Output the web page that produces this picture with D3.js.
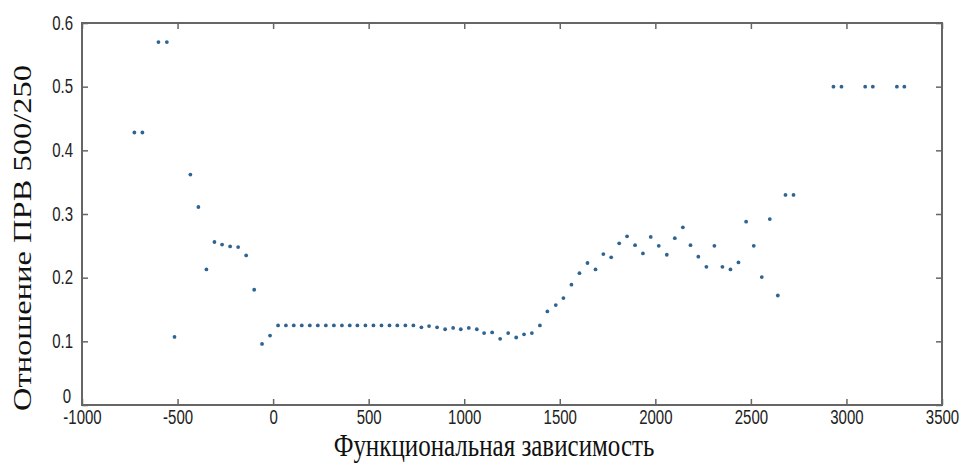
<!DOCTYPE html>
<html><head><meta charset="utf-8">
<script src="https://cdn.jsdelivr.net/npm/d3@7"></script>
<style>body{margin:0;background:#fff;}</style>
</head><body>
<svg id="c" width="973" height="467"></svg>
<script>
const xVals = [-726,-684,-600,-556,-516,-433,-391,-349,-307,-267,-225,-183,-141,-99,-58,-16,
  26,67,108,150,192,234,276,318,360,401,441,483,525,567,609,650,692,734,
  776,816,858,900,942,982,1024,1066,1104,1146,1188,1230,1272,1313,1354,1396,1435,1479,1519,1561,
  1603,1645,1687,1728,1769,1811,1852,1894,1935,1976,2018,2060,2102,2144,2184,2225,2267,2309,2351,2393,2435,
  2475,2515,2557,2599,2641,2681,2723,2932,2974,3098,3138,3264,3303];
const yVals = [0.428,0.428,0.570,0.570,0.107,0.362,0.311,0.213,0.256,0.252,0.249,0.248,0.235,0.181,0.096,0.109,
  0.125,0.125,0.125,0.125,0.125,0.125,0.125,0.125,0.125,0.125,0.125,0.125,0.125,0.125,0.125,0.125,0.125,0.125,
  0.122,0.124,0.122,0.119,0.121,0.119,0.121,0.119,0.113,0.114,0.104,0.113,0.106,0.111,0.113,0.125,0.147,0.157,0.168,0.189,
  0.207,0.223,0.213,0.237,0.232,0.254,0.265,0.251,0.238,0.264,0.250,0.236,0.262,0.279,0.251,0.233,0.217,0.250,0.217,0.213,0.224,
  0.288,0.250,0.201,0.292,0.172,0.330,0.330,0.500,0.500,0.500,0.500,0.500,0.500];
const xTicks = [-1000,-500,0,500,1000,1500,2000,2500,3000,3500];
const yTicks = [0,0.1,0.2,0.3,0.4,0.5,0.6];
const xTitle = "Функциональная зависимость";
const yTitle = "Отношение ПРВ 500/250";

const L=82, R=942, T=23, B=405;
const SY = 1.3;
const svg = d3.select("#c");
const x = d3.scaleLinear().domain([-1000,3500]).range([L,R]);
const y = d3.scaleLinear().domain([0,0.6]).range([B,T]);
const axisColor = "#666";
const tickFont = "'Liberation Sans',Arial,sans-serif";

svg.append("rect").attr("x",L).attr("y",T).attr("width",R-L).attr("height",B-T)
  .attr("fill","none").attr("stroke",axisColor).attr("stroke-width",2);

function styleAxis(g){
  g.select(".domain").remove();
  g.selectAll(".tick line").attr("stroke",axisColor).attr("stroke-width",1.5);
  g.selectAll(".tick text").attr("fill","#222").style("font-family",tickFont).style("font-size","15px");
}
svg.append("g").attr("transform",`translate(0,${B})`)
  .call(d3.axisBottom(x).tickValues(xTicks).tickSize(-6).tickFormat(d=>String(d)))
  .call(styleAxis)
  .call(g=>g.selectAll(".tick text").attr("y",0).attr("dy","0.71em")
    .attr("transform",`translate(0,5) scale(1,${SY})`));
svg.append("g").attr("transform",`translate(0,${T})`)
  .call(d3.axisTop(x).tickValues(xTicks).tickSize(-6).tickFormat(""))
  .call(styleAxis);
svg.append("g").attr("transform",`translate(${L},0)`)
  .call(d3.axisLeft(y).tickValues(yTicks).tickSize(-6).tickFormat(d=>d===0?"0":d3.format(".1f")(d)))
  .call(styleAxis)
  .call(g=>g.selectAll(".tick text").attr("x",0).attr("dy","0.32em")
    .attr("transform",d=>`translate(${d===0?-11:-9},${d===0?-9:0}) scale(1,${SY})`));
svg.append("g").attr("transform",`translate(${R},0)`)
  .call(d3.axisRight(y).tickValues(yTicks).tickSize(-6).tickFormat(""))
  .call(styleAxis);

svg.append("g").selectAll("circle").data(xVals.map((v,i)=>[v,yVals[i]])).join("circle")
  .attr("cx",d=>x(d[0])).attr("cy",d=>y(d[1])).attr("r",1.9).attr("fill","#2f6491");

svg.append("text").attr("transform",`translate(${(L+R)/2-18},456) scale(1,${SY})`).attr("text-anchor","middle")
  .style("font-family","'Liberation Serif','Times New Roman',serif").style("font-size","25px").attr("fill","#111")
  .text(xTitle);
svg.append("text").attr("transform",`translate(31,238) rotate(-90) scale(${SY},1)`).attr("text-anchor","middle")
  .style("font-family","'Liberation Serif','Times New Roman',serif").style("font-size","25px").attr("fill","#111")
  .text(yTitle);
</script>
</body></html>
